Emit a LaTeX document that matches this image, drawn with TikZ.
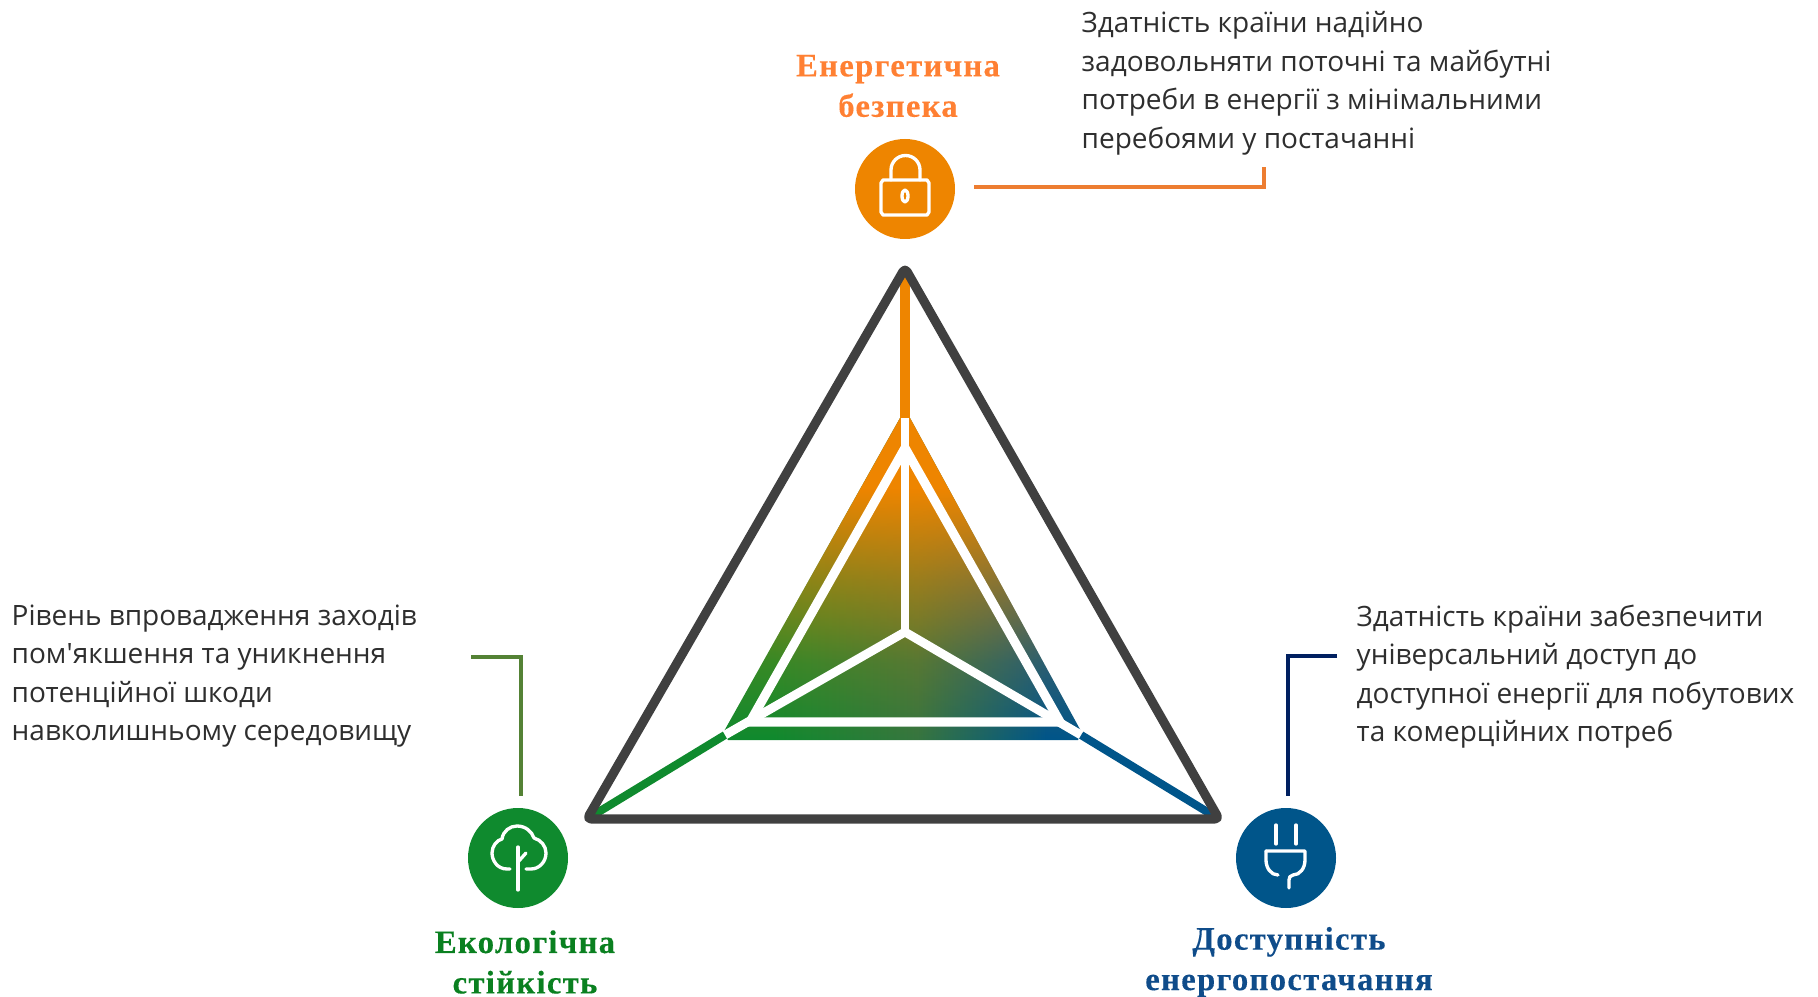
\documentclass[tikz,border=0pt]{standalone}
\usepackage{fontspec}
\newfontfamily\descrfont{Open Sans}
\newfontfamily\headfont{Liberation Serif}[LetterSpace=4,BoldFeatures={FakeBold=0.3}]
\usepackage{xcolor}
\usetikzlibrary{fadings}

\definecolor{orangeA}{HTML}{EE8500}
\definecolor{greenA}{HTML}{0F8A2E}
\definecolor{blueA}{HTML}{00558A}
\definecolor{midA}{HTML}{35753F}
\definecolor{frameA}{HTML}{404040}
\definecolor{orangeL}{HTML}{ED7D31}
\definecolor{greenL}{HTML}{548235}
\definecolor{blueL}{HTML}{002060}
\definecolor{orangeT}{HTML}{FF8033}
\definecolor{greenT}{HTML}{0A8020}
\definecolor{blueT}{HTML}{0F4C8A}

% Gradient of the inner triangle
\pgfdeclarehorizontalshading{greenblue}{100bp}{color(0bp)=(greenA); color(32bp)=(greenA); color(52bp)=(midA); color(70bp)=(blueA); color(100bp)=(blueA)}
\pgfdeclareverticalshading{fadedownsh}{100bp}{color(0bp)=(pgftransparent!100); color(25bp)=(pgftransparent!100); color(37bp)=(pgftransparent!82); color(50bp)=(pgftransparent!45); color(64bp)=(pgftransparent!0); color(100bp)=(pgftransparent!0)}
\pgfdeclarefading{fadedown}{\pgfuseshading{fadedownsh}}

\tikzset{
  badge/.style={circle, minimum size=100*0.01cm, inner sep=0pt, fill=#1},
  leader/.style={line width=1.2pt, #1},
  descr/.style={anchor=north west, align=left, inner sep=0pt, text=black!82,
    font=\descrfont\fontsize{7.96pt}{10.95pt}\selectfont},
  head/.style={align=center, inner sep=0pt, text=#1,
    font=\headfont\bfseries\fontsize{9.3pt}{11.5pt}\selectfont},
  glyph/.style={white, line width=0.95pt, line cap=round, line join=round},
}

\begin{document}
\begin{tikzpicture}[x=0.01cm,y=-0.01cm]
\useasboundingbox (0,0) rectangle (1818,997);

% Outer triangle corners
\coordinate (top) at (905,268);
\coordinate (lft) at (587,819);
\coordinate (rgt) at (1219,819);

% Inner shaded triangle
\coordinate (mid) at (905,632);
\coordinate (itop) at (905,418);
\coordinate (ilft) at (725,735);
\coordinate (irgt) at (1081,735);
\coordinate (wlft) at (750,722);
\coordinate (wrgt) at (1060,722);
\coordinate (wtop) at (905,448);

% Axes
\draw[orangeA, line width=2.6pt] (top) -- (itop);
\draw[greenA, line width=2.3pt] (lft) -- (ilft);
\draw[blueA, line width=2.3pt] (rgt) -- (irgt);

% Frame
\draw[frameA, line width=2.6pt, line join=round, rounded corners=1.2pt] (top) -- (lft) -- (rgt) -- cycle;

% Gradient: green to blue, orange fading over it
\shade[shading=greenblue] (900,418) -- (723,733) -- (728,740) -- (1078,740) -- (1082,733) -- (910,418) -- cycle;
\path[top color=orangeA, bottom color=orangeA, path fading=fadedown] (900,418) -- (723,733) -- (728,740) -- (1078,740) -- (1082,733) -- (910,418) -- cycle;

% White spokes and inner triangle
\draw[white, line width=2.6pt, line join=miter] (wtop) -- (wlft) -- (wrgt) -- cycle;
\draw[white, line width=2.5pt] (mid) -- (itop);
\draw[white, line width=2.5pt] (mid) -- (ilft);
\draw[white, line width=2.5pt] (mid) -- (irgt);

% Badges
\node[badge=orangeA] (lock) at (905,189) {};
\node[badge=greenA] (tree) at (518,858) {};
\node[badge=blueA] (plug) at (1286,858) {};

% Lock icon
\draw[glyph] (881,183) -- (881,212) -- (883,215) -- (927,215) -- (929,212) -- (929,183) -- (927,180) -- (883,180) -- cycle;
\draw[glyph] (891,180) -- (891,170) arc[start angle=180, end angle=360, radius=14.5] -- (920,180);
\draw[glyph] (905,196) ellipse (3 and 6);

% Tree icon
\draw[glyph] (510,869) -- (507,869) .. controls (497,869) and (492,860) .. (492,853)
  .. controls (492,846) and (497,840) .. (502,839)
  .. controls (503,831) and (510,826) .. (517,826)
  .. controls (526,826) and (532,832) .. (534,838)
  .. controls (541,840) and (546,846) .. (546,853)
  .. controls (546,862) and (539,869) .. (531,869) -- (526,869);
\draw[glyph] (518,847) -- (518,890);
\draw[glyph] (518,862) -- (526,853);

% Plug icon
\draw[glyph] (1276,825) -- (1276,844);
\draw[glyph] (1296,825) -- (1296,844);
\draw[glyph] (1266,851) -- (1305,851) -- (1305,860) .. controls (1305,868) and (1300,875) .. (1293,875) .. controls (1290,875) and (1289,878) .. (1289,880) -- (1289,888);
\draw[glyph] (1266,851) -- (1266,860) .. controls (1266,868) and (1271,875) .. (1278,875);

% Leaders
\coordinate (ora) at (974,187);
\coordinate (orb) at (1264,187);
\coordinate (orc) at (1264,167);
\draw[leader=orangeL] (ora) -- (orb) -- (orc);
\coordinate (gra) at (471,657);
\coordinate (grb) at (521,657);
\coordinate (grc) at (521,796);
\draw[leader=greenL] (gra) -- (grb) -- (grc);
\coordinate (bla) at (1337,656);
\coordinate (blb) at (1288,656);
\coordinate (blc) at (1288,796);
\draw[leader=blueL] (bla) -- (blb) -- (blc);

% Headings
\node[head=orangeT] (hsec) at (898,86) {Енергетична\\безпека};
\node[head=greenT] (heco) at (525,962) {Екологічна\\стійкість};
\node[head=blueT] (hacc) at (1289,962) {Доступність\\енергопостачання};

% Descriptions
\node[descr] (dsec) at (1081,11) {Здатність країни надійно\\задовольняти поточні та майбутні\\потреби в енергії з мінімальними\\перебоями у постачанні};
\node[descr] (deco) at (11,604) {Рівень впровадження заходів\\пом'якшення та уникнення\\потенційної шкоди\\навколишньому середовищу};
\node[descr] (dacc) at (1356,604) {Здатність країни забезпечити\\універсальний доступ до\\доступної енергії для побутових\\та комерційних потреб};

\end{tikzpicture}
\end{document}
